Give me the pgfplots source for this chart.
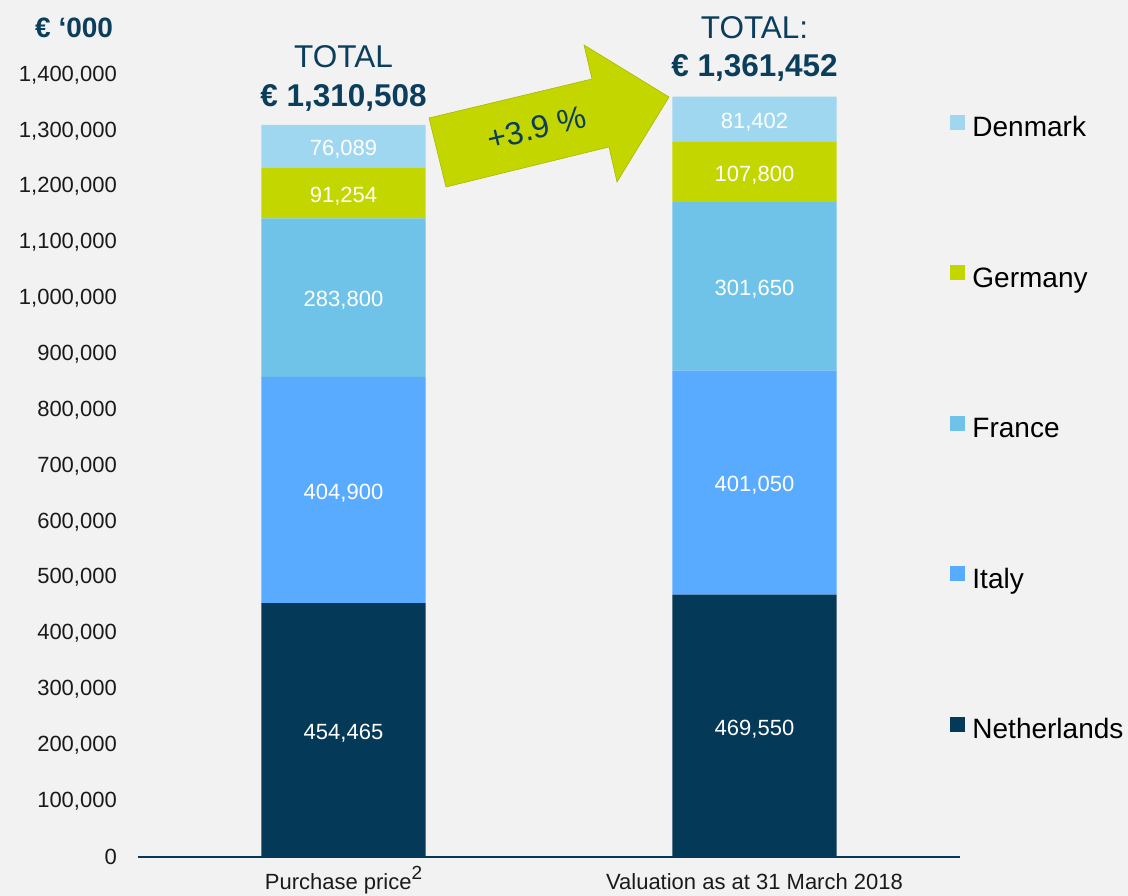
\documentclass[border=0pt]{standalone}
\usepackage{fontspec}
\setmainfont{Liberation Sans}
\usepackage{pgfplots}
\usepackage{pgfplotstable}
\pgfplotsset{compat=1.18}
\definecolor{bg}{HTML}{F2F2F2}
\definecolor{navy}{HTML}{043A57}
\definecolor{italy}{HTML}{59ABFF}
\definecolor{france}{HTML}{70C3E8}
\definecolor{germany}{HTML}{C4D600}
\definecolor{denmark}{HTML}{9FD7F0}
\definecolor{titlec}{HTML}{0B3D5C}
\definecolor{ticktext}{HTML}{1A1A1A}
\definecolor{arrowedge}{HTML}{A9B800}

\pgfplotstableread{
x y
0 454465
1 469550
}\netherlands
\pgfplotstableread{
x y
0 404900
1 401050
}\italy
\pgfplotstableread{
x y
0 283800
1 301650
}\france
\pgfplotstableread{
x y
0 91254
1 107800
}\germany
\pgfplotstableread{
x y
0 76089
1 81402
}\denmark

\begin{document}
\begin{tikzpicture}[x=1pt,y=1pt]
\useasboundingbox (0,0) rectangle (1128,896);
\fill[bg] (0,0) rectangle (1128,896);
\begin{axis}[
  at={(138pt,39pt)}, anchor=south west,
  scale only axis, width=822pt, height=782pt,
  ybar stacked, bar width=0.4,
  xmin=-0.5, xmax=1.5, ymin=0, ymax=1400000,
  clip=false,
  axis x line*=bottom, axis y line*=left,
  x axis line style={-, draw=navy, line width=1.6pt},
  y axis line style={draw=none},
  major tick length=0pt, tick style={draw=none},
  xtick={0,1},
  xticklabels={Purchase price\raisebox{10pt}{\fontsize{19}{20}\selectfont 2}, Valuation as at 31 March 2018},
  xticklabel style={font=\fontsize{22}{26}\selectfont, text=ticktext, anchor=base, inner sep=0pt, yshift=-33pt},
  ytick={0,100000,200000,300000,400000,500000,600000,700000,800000,900000,1000000,1100000,1200000,1300000,1400000},
  scaled y ticks=false,
  /pgf/number format/assume math mode=true,
  yticklabel={\pgfmathprintnumber[fixed,precision=0,1000 sep={,}]{\tick}},
  yticklabel style={font=\fontsize{22}{26}\selectfont, text=ticktext, anchor=east, inner sep=0pt, xshift=-21pt},
  visualization depends on=rawy \as \rawy,
  nodes near coords={\pgfmathprintnumber[fixed,precision=0,1000 sep={,},assume math mode=true]{\rawy}},
  every node near coord/.append style={anchor=center, text=white, inner sep=0pt, font=\fontsize{22}{26}\selectfont, yshift=-3pt},
  reverse legend,
  legend style={at={(0.9845,0.952)}, anchor=north west, draw=none, fill=none,
    row sep=122.5pt, column sep=0pt,
    font=\fontsize{28}{32}\selectfont, text=black,
    nodes={inner sep=0pt, text height=20pt, text depth=6pt}},
  legend cell align=left,
  legend image code/.code={\fill[#1] (0pt,0pt) rectangle (15pt,15pt); \path (22pt,0pt);},
]
\addplot[fill=navy, draw=none] table {\netherlands};
\addlegendentry{Netherlands}
\addplot[fill=italy, draw=none] table {\italy};
\addlegendentry{Italy}
\addplot[fill=france, draw=none] table {\france};
\addlegendentry{France}
\addplot[fill=germany, draw=none] table {\germany};
\addlegendentry{Germany}
\addplot[fill=denmark, draw=none] table {\denmark};
\addlegendentry{Denmark}

\node[anchor=base, text=titlec, font=\fontsize{31.5}{36}\selectfont\bfseries, yshift=18pt] at (axis cs:0,1310508) {€ 1,310,508};
\node[anchor=base, text=titlec, font=\fontsize{31.5}{36}\selectfont, yshift=57pt] at (axis cs:0,1310508) {TOTAL};
\node[anchor=base, text=titlec, font=\fontsize{31.5}{36}\selectfont\bfseries, yshift=20pt] at (axis cs:1,1361452) {€ 1,361,452};
\node[anchor=base, text=titlec, font=\fontsize{31.5}{36}\selectfont, yshift=58pt] at (axis cs:1,1361452) {TOTAL:};
\end{axis}
\node[anchor=base west, text=titlec, font=\fontsize{28}{32}\selectfont\bfseries, inner sep=0pt] at (35,858) {€ ‘000};
\filldraw[fill=germany, draw=arrowedge, line width=0.6pt]
  (446,709) -- (429,778) -- (592,817) -- (584,851) -- (669,799) -- (617,714) -- (609,749) -- cycle;
\node[text=titlec, font=\fontsize{32}{36}\selectfont, rotate=13.5] at (537,768) {+3.9 \%};
\end{tikzpicture}
\end{document}
